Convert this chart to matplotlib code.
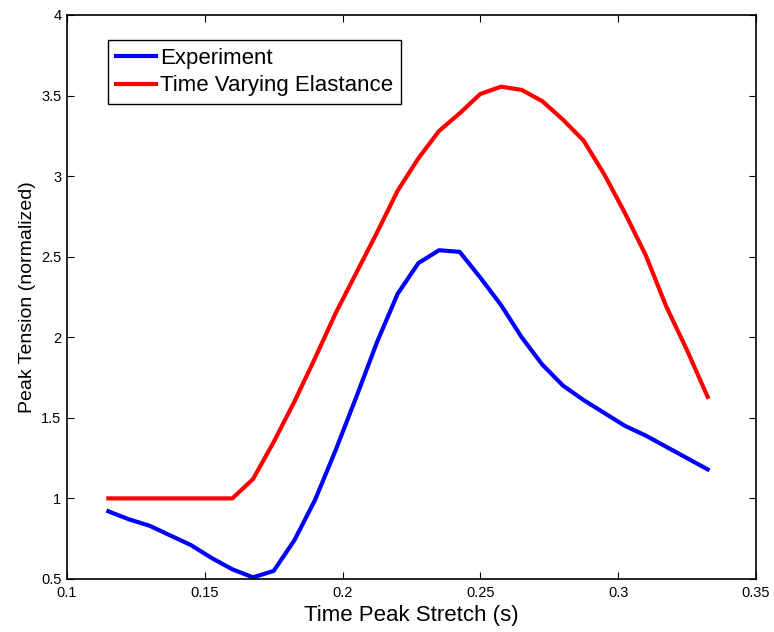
import matplotlib
matplotlib.use("Agg")
import matplotlib.pyplot as plt

plt.rcParams['font.family'] = ['Liberation Sans', 'DejaVu Sans']

# Data
t_exp = [0.115, 0.1225, 0.13, 0.1375, 0.145, 0.1525, 0.16, 0.1675, 0.175,
         0.1825, 0.19, 0.1975, 0.205, 0.2125, 0.22, 0.2275, 0.235, 0.2425,
         0.25, 0.2575, 0.265, 0.2725, 0.28, 0.2875, 0.295, 0.3025, 0.31,
         0.3175, 0.325, 0.3325]
experiment = [0.92, 0.87, 0.83, 0.77, 0.71, 0.63, 0.56, 0.51, 0.55,
              0.74, 0.99, 1.30, 1.63, 1.97, 2.27, 2.46, 2.54, 2.53,
              2.37, 2.20, 2.00, 1.83, 1.70, 1.61, 1.53, 1.45, 1.39,
              1.32, 1.25, 1.18]

t_tve = [0.115, 0.16, 0.1675, 0.175, 0.1825, 0.19, 0.1975, 0.205, 0.2125,
         0.22, 0.2275, 0.235, 0.2425, 0.25, 0.2575, 0.265, 0.2725, 0.28,
         0.2875, 0.295, 0.3025, 0.31, 0.3175, 0.325, 0.3325]
tve = [1.0, 1.0, 1.12, 1.35, 1.60, 1.87, 2.15, 2.40, 2.65,
       2.91, 3.11, 3.28, 3.39, 3.51, 3.555, 3.535, 3.465, 3.35,
       3.22, 3.01, 2.77, 2.51, 2.19, 1.92, 1.63]

x_ticks = [0.1, 0.15, 0.2, 0.25, 0.3, 0.35]
x_labels = ['0.1', '0.15', '0.2', '0.25', '0.3', '0.35']
y_ticks = [0.5, 1, 1.5, 2, 2.5, 3, 3.5, 4]
y_labels = ['0.5', '1', '1.5', '2', '2.5', '3', '3.5', '4']

fig = plt.figure(figsize=(7.74, 6.32), dpi=100)
ax = fig.add_axes([0.0866, 0.0839, 0.89, 0.8924])

ax.plot(t_exp, experiment, color='blue', linewidth=3, label='Experiment')
ax.plot(t_tve, tve, color='red', linewidth=3, label='Time Varying Elastance')

ax.set_xlim(0.1, 0.35)
ax.set_ylim(0.5, 4)
ax.set_xticks(x_ticks)
ax.set_xticklabels(x_labels)
ax.set_yticks(y_ticks)
ax.set_yticklabels(y_labels)
ax.tick_params(direction='in', top=True, right=True, length=5, width=0.8,
               labelsize=10.5)
ax.tick_params(axis='x', pad=5)
ax.tick_params(axis='y', pad=4)
for s in ax.spines.values():
    s.set_linewidth(1.2)

ax.set_xlabel('Time Peak Stretch (s)', fontsize=16, labelpad=4)
ax.set_ylabel('Peak Tension (normalized)', fontsize=14, labelpad=4)

leg = ax.legend(loc='upper left', bbox_to_anchor=(0.0595, 0.9557),
                borderaxespad=0, fontsize=16, handlelength=1.8,
                handletextpad=0.2, borderpad=0.35, labelspacing=0.3,
                fancybox=False, framealpha=1)
leg.get_frame().set_edgecolor('black')
leg.get_frame().set_linewidth(1.0)

fig.savefig('out.png', dpi=100)
